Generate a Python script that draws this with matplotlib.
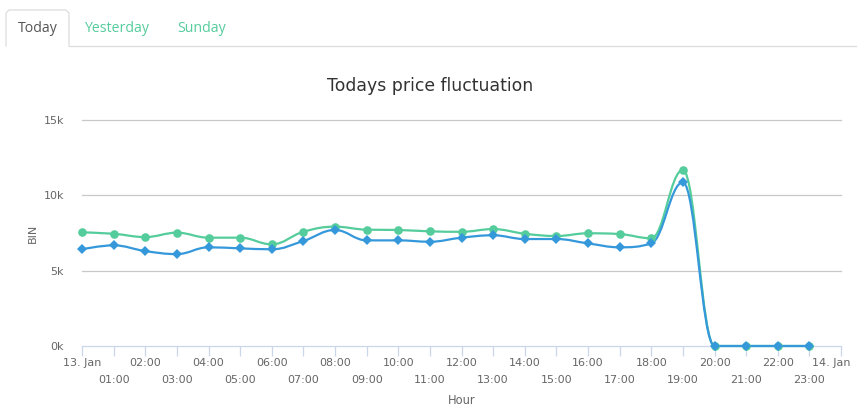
import matplotlib
matplotlib.use("Agg")
import matplotlib.pyplot as plt
from matplotlib.path import Path
from matplotlib.patches import PathPatch
from matplotlib.lines import Line2D
from matplotlib.transforms import ScaledTranslation

# ---------------- data ----------------
hours = list(range(24))
hour_labels = ["13. Jan"] + [f"{h:02d}:00" for h in range(1, 24)] + ["14. Jan"]
series_names = ["Yesterday", "Today"]
green_values = [7540, 7450, 7230, 7520, 7190, 7190, 6750, 7580, 7920, 7720, 7700, 7610,
                7580, 7760, 7450, 7300, 7480, 7430, 7150, 11680, 0, 0, 0, 0]
blue_values = [6420, 6680, 6300, 6100, 6550, 6480, 6420, 6970, 7700, 7010, 7010, 6920,
               7190, 7350, 7100, 7100, 6810, 6550, 6810, 10860, 0, 0, 0, 0]
y_ticks = [0, 5000, 10000, 15000]
y_tick_labels = ["0k", "5k", "10k", "15k"]
tab_labels = ["Today", "Yesterday", "Sunday"]
title_text = "Todays price fluctuation"
x_title = "Hour"
y_title = "BIN"

GREEN = "#55cc9b"
BLUE = "#3498db"
AXIS = "#ccd6eb"
GRID = "#c8c8c8"
LABEL = "#666666"

W, H = 863, 413
fig = plt.figure(figsize=(W / 100, H / 100), dpi=100)


def px(x, y):
    return x / W, 1 - y / H


def spline_path(xs, ys, smoothing=1.5):
    n = len(xs)
    lc = [None] * n
    rc = [None] * n
    d = smoothing + 1
    for i in range(1, n - 1):
        pX, pY = xs[i], ys[i]
        lX, lY = xs[i - 1], ys[i - 1]
        nX, nY = xs[i + 1], ys[i + 1]
        lcx = (smoothing * pX + lX) / d
        lcy = (smoothing * pY + lY) / d
        rcx = (smoothing * pX + nX) / d
        rcy = (smoothing * pY + nY) / d
        if rcx != lcx:
            corr = ((rcy - lcy) * (rcx - pX)) / (rcx - lcx) + pY - rcy
            lcy += corr
            rcy += corr
        if lcy > lY and lcy > pY:
            lcy = max(lY, pY); rcy = 2 * pY - lcy
        elif lcy < lY and lcy < pY:
            lcy = min(lY, pY); rcy = 2 * pY - lcy
        if rcy > pY and rcy > nY:
            rcy = max(pY, nY); lcy = 2 * pY - rcy
        elif rcy < pY and rcy < nY:
            rcy = min(pY, nY); lcy = 2 * pY - rcy
        lc[i] = (lcx, lcy)
        rc[i] = (rcx, rcy)
    verts = [(xs[0], ys[0])]
    codes = [Path.MOVETO]
    for i in range(1, n):
        c1 = rc[i - 1] if rc[i - 1] is not None else (xs[i - 1], ys[i - 1])
        c2 = lc[i] if lc[i] is not None else (xs[i], ys[i])
        verts += [c1, c2, (xs[i], ys[i])]
        codes += [Path.CURVE4] * 3
    return Path(verts, codes)


# ---------------- axes ----------------
l, b = px(82, 346)
r, t = px(841, 120)
ax = fig.add_axes([l, b, r - l, t - b])
ax.set_xlim(0, 24)
ax.set_ylim(0, 15000)
for s in ["top", "right", "left"]:
    ax.spines[s].set_visible(False)
ax.spines["bottom"].set_color(AXIS)
ax.spines["bottom"].set_linewidth(0.9)

for yv in y_ticks[1:]:
    ax.axhline(yv, color=GRID, lw=0.9, zorder=1, clip_on=False)

ax.set_yticks(y_ticks)
ax.set_yticklabels(y_tick_labels)
ax.tick_params(axis="y", length=0, pad=13, labelsize=8, labelcolor=LABEL)

major_pos = list(range(0, 25, 2))
minor_pos = list(range(1, 24, 2))
ax.set_xticks(major_pos)
ax.set_xticklabels([hour_labels[p] for p in major_pos])
ax.set_xticks(minor_pos, minor=True)
ax.set_xticklabels([hour_labels[p] for p in minor_pos], minor=True)
ax.tick_params(axis="x", which="both", length=7.2, width=0.9, color=AXIS,
               labelsize=8, labelcolor=LABEL)
ax.tick_params(axis="x", which="major", pad=1.5)
ax.tick_params(axis="x", which="minor", pad=13.8)

# keep the last label inside the chart (shifted left like the original)
last = ax.get_xticklabels()[-1]
last.set_horizontalalignment("right")
last.set_transform(last.get_transform() + ScaledTranslation(9 / 100, 0, fig.dpi_scale_trans))

# series
for vals, color, marker, ms in [(green_values, GREEN, "o", 6.2),
                                (blue_values, BLUE, "D", 4.6)]:
    path = spline_path(hours, vals)
    ax.add_patch(PathPatch(path, facecolor="none", edgecolor=color, lw=1.6,
                           zorder=3, clip_on=False, capstyle="round",
                           joinstyle="round"))
    ax.plot(hours, vals, linestyle="none", marker=marker, ms=ms, color=color,
            markeredgewidth=0, zorder=4, clip_on=False)

fig.text(*px(33, 233), y_title, rotation=90, ha="center", va="center",
         fontsize=8, color=LABEL)
fig.text(*px(461.5, 401), x_title, ha="center", va="center", fontsize=8.3,
         color=LABEL)
fig.text(*px(430, 86), title_text, ha="center", va="center", fontsize=12.4,
         color="#333333")

# ---------------- tabs ----------------
fig.add_artist(Line2D([px(69, 0)[0], px(856, 0)[0]], [px(0, 46)[1]] * 2,
                      color="#dddddd", lw=0.9))
rad = 3
tab_pts = [(6, 46), (6, 10 + rad), (6 + rad, 10), (69 - rad, 10), (69, 10 + rad), (69, 46)]
fig.add_artist(Line2D([px(x, y)[0] for x, y in tab_pts],
                      [px(x, y)[1] for x, y in tab_pts],
                      color="#dddddd", lw=0.9, solid_joinstyle="round"))
fig.text(*px(37.5, 28), tab_labels[0], ha="center", va="center", fontsize=10.2,
         color="#555555", family="Open Sans")
fig.text(*px(117.5, 28), tab_labels[1], ha="center", va="center", fontsize=10.2,
         color=GREEN, family="Open Sans")
fig.text(*px(201.5, 28), tab_labels[2], ha="center", va="center", fontsize=10.2,
         color=GREEN, family="Open Sans")

fig.savefig("out.png", dpi=100, facecolor="white")
